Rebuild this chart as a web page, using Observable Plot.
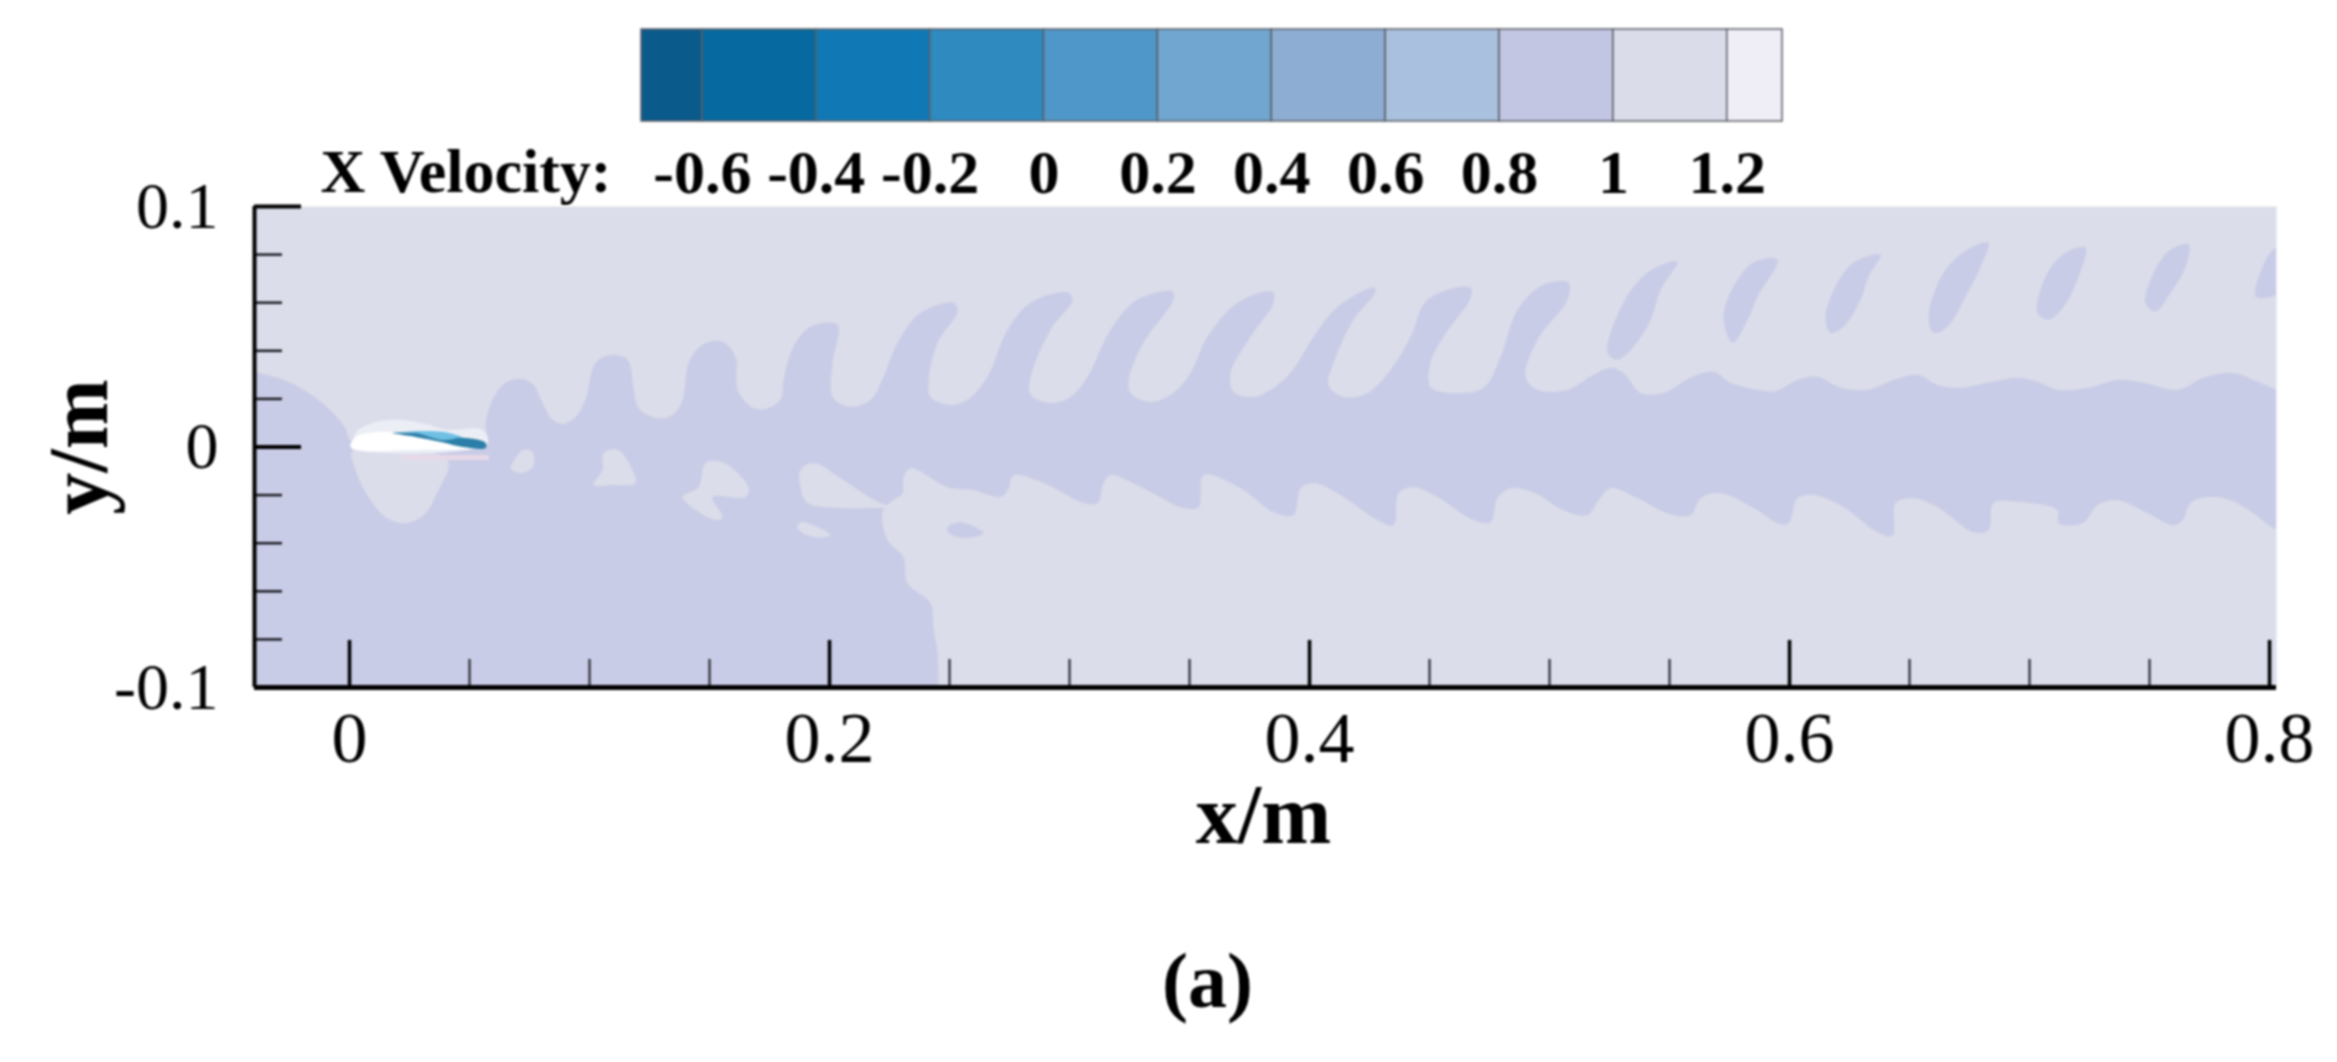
<!DOCTYPE html>
<html>
<head>
<meta charset="utf-8">
<style>body{margin:0;background:#fff;overflow:hidden}svg{display:block;filter:blur(0.8px)}</style>
<script src="https://cdn.jsdelivr.net/npm/d3@7"></script>
<script src="https://cdn.jsdelivr.net/npm/@observablehq/plot@0.6"></script>
</head>
<body>
<div id="chart"></div>
<script>
// Colour bar
const levelTicks = [-0.6,-0.4,-0.2,0,0.2,0.4,0.6,0.8,1,1.2];
const levelBounds = [-0.707,-0.6,-0.4,-0.2,0,0.2,0.4,0.6,0.8,1,1.2,1.297];
const levelColors = ["#0B5A8C","#06699F","#1078B5","#2E8ABF","#4F97C8","#70A6D0","#8DADD2","#A9C0DE","#C3C6E3","#DBDCEA","#EFEDF5"];

// Axis ticks
const xMajor = [0,0.2,0.4,0.6,0.8];
const xMinor = [0.05,0.1,0.15,0.25,0.3,0.35,0.45,0.5,0.55,0.65,0.7,0.75];
const yMajor = [-0.1,0,0.1];
const yMinor = [-0.08,-0.06,-0.04,-0.02,0.02,0.04,0.06,0.08];

// Contour vertices in millimetres
const wakeBand = [[-70,40],[-39.2,31.3],[-25.4,27.1],[-11.3,18.3],[-1.7,7.9],[0.4,2.9],[21.3,-0.4],[56.7,2.1],[56.7,10],[59.6,19.6],[65,26.7],[72.1,28.3],[76.7,25.8],[80.4,18.3],[84.6,11.3],[88.8,9.6],[94.2,12.5],[98.3,19.6],[102.5,35],[108.8,38.3],[115.8,36.3],[118.3,25],[120.4,16.3],[127.5,12.1],[134.6,13.3],[138.8,19.6],[141.3,35],[147.1,42.5],[155.4,43.8],[160.8,37.5],[161.7,23.8],[167.9,16.3],[173.3,15.8],[179.6,19.6],[180.8,27.9],[185,41.7],[192.1,50],[203.3,50.8],[201.3,35],[201.3,20.8],[208.8,16.7],[217.1,19.6],[222.5,29.2],[228.3,43.3],[237.9,55.8],[251.7,60],[253.3,56.3],[245,43.3],[241.3,27.9],[242.1,20.8],[250.4,17.5],[257.5,19.6],[265.8,29.2],[274.2,48.8],[283.8,60],[299.2,64.2],[301.3,61.3],[292.1,48.8],[283.8,29.2],[283.8,21.7],[292.1,18.3],[300.4,20.8],[307.5,29.2],[317.1,48.8],[328.3,61.3],[342.9,64.6],[343.3,61.3],[330.8,43.3],[324.6,27.9],[325.4,22.5],[333.8,18.8],[343.3,22.5],[350.4,30.8],[357.5,45.8],[370,60],[384.6,64.6],[385,60],[375.4,45.8],[367.1,30.8],[368.3,22.9],[376.7,20.8],[383.8,23.8],[392.1,30.8],[401.7,45.8],[411.7,58.3],[426.7,66.3],[427.5,64.6],[418.3,52.9],[410,35],[407.9,25.8],[414.2,20.8],[424.2,22.5],[433.8,32.1],[442.1,45.8],[449.2,61.3],[467.1,66.3],[467.1,62.1],[455.8,45.8],[450.4,35],[450.4,25],[458.8,22.5],[472.5,24.6],[479.6,37.5],[486.7,57.1],[497.5,67.5],[507.9,68.3],[507.5,61.3],[495,44.6],[490,29.2],[495,23.8],[507.5,23.8],[518.3,30],[525.4,32.9],[530.8,30.8],[537.9,22.5],[547.5,22.5],[558.8,28.8],[568.3,31.3],[575.4,26.7],[586.7,23.8],[594.2,23.3],[603.3,27.9],[611.7,29.2],[621.3,24.6],[632.5,23.8],[643.3,27.9],[653.3,30],[661.7,25.8],[671.3,24.6],[682.5,26.7],[695,28.8],[703.3,27.1],[711.7,23.8],[724.2,24.6],[736.7,27.9],[747.5,26.7],[761.7,23.8],[772.5,28.8],[785,30.8],[793.3,27.9],[803.3,23.8],[830,16],[830,-40],[803.3,-34.6],[793.3,-27.5],[783.8,-22.1],[774.2,-20.8],[767.1,-23.3],[763.8,-30.4],[760,-32.5],[749.2,-27.5],[736.7,-22.1],[728.3,-24.2],[722.1,-31.7],[712.1,-31.7],[711.7,-26.3],[696.3,-22.9],[685,-23.3],[682.9,-34.6],[676.7,-35.4],[661.7,-25],[651.7,-21.3],[644.2,-23.3],[642.9,-36.7],[636.7,-35.4],[622.5,-25],[610,-20],[603.3,-21.3],[599.6,-31.7],[595,-31.7],[586.7,-26.3],[571.3,-19.2],[562.9,-21.3],[558.8,-28.3],[549.2,-27.5],[536.7,-21.3],[525.4,-17.1],[520.4,-22.1],[515.8,-28.3],[505.8,-26.3],[493.3,-18.8],[483.8,-17.1],[478.3,-21.3],[475.4,-31.3],[468.3,-30.4],[453.3,-20.8],[443.3,-16.7],[437.1,-19.2],[435,-32.5],[428.3,-30.4],[411.7,-19.2],[401.7,-15],[396.3,-17.1],[393.3,-28.3],[385,-27.1],[371.3,-17.1],[355.8,-11.7],[353.8,-25],[347.5,-25.4],[330.8,-17.1],[317.1,-11.7],[314.2,-15],[311.7,-23.3],[305.8,-23.3],[289.2,-15],[276.7,-11.7],[274.6,-17.1],[271.3,-20.8],[260,-17.9],[249.2,-16.7],[233.8,-8.8],[230.8,-12.5],[230.4,-19.2],[225.4,-22.9],[222.1,-27.1],[224.2,-38.8],[230.8,-45.8],[232.5,-56.7],[242.1,-65],[243.3,-75],[245,-85.8],[245.4,-101.3],[245.5,-130],[-70,-130]];

const lightUnderFoil = [[1.3,-1.3],[2.5,-9.6],[7.9,-20.8],[15,-29.2],[23.3,-31.7],[31.7,-27.5],[37.1,-17.9],[41.3,-8.3],[40,-4.2],[22.1,-1.3]];
const lightIsland1 = [[67.9,-6.7],[72.1,-1.3],[76.3,-2.1],[76.3,-8.3],[71.3,-10.8],[67.1,-8.8]];
const lightIsland2 = [[105.8,-2.5],[112.1,-1.3],[117.9,-9.6],[119.2,-15],[109.6,-15.8],[101.7,-15.8],[105.4,-9.6]];
const lightIsland3 = [[148.3,-6.7],[155.4,-6.3],[166.3,-16.7],[165,-20.8],[151.3,-20.8],[155.4,-29.2],[152.5,-30.4],[138.8,-20.8],[145.4,-16.7]];
const lightIsland4 = [[187.9,-9.6],[193.3,-6.7],[205.8,-13.8],[221.3,-23.3],[228,-25],[218.3,-25.4],[204.6,-25.4],[190.8,-23.3],[187.9,-16.7]];
const lightIsland5 = [[187.9,-31.3],[193.3,-32.5],[200.4,-36.7],[193.3,-37.5],[186.7,-33.8]];
const darkIsland = [[249.2,-33.3],[254.6,-31.3],[264.2,-35.8],[255.8,-37.9],[249.6,-35.8]];

const streak0 = [[553.3,77.1],[540.8,72.5],[530.8,60],[524.2,39.2],[528.3,36.3],[535,41.7],[542.1,52.9],[546.3,65.4]];
const streak1 = [[595,77.9],[585,76.7],[576.7,66.7],[572.5,54.2],[576.3,43.3],[582.5,52.9],[586.7,62.5]];
const streak2 = [[637.9,80],[626.7,76.7],[619.2,66.7],[615,54.2],[617.1,47.5],[622.5,50],[629.6,61.3],[632.9,70.8]];
const streak3 = [[682.9,85],[674.2,82.1],[664.2,72.5],[657.9,54.2],[660,47.5],[665.8,50],[674.2,64.2],[679.6,75]];
const streak4 = [[723.3,82.9],[715.8,81.3],[707.5,72.5],[703.3,55.8],[707.9,52.9],[714.2,58.3],[720.4,70.8]];
const streak5 = [[766.3,84.2],[758.8,82.1],[751.7,72.5],[748.3,60],[752.5,56.3],[758.8,64.2],[765,75]];
const streak6 = [[815,88],[803.3,83.3],[799.2,79.2],[794.2,62.5],[799.2,62.1],[806.7,64.2],[815,62]];

const foilHalo = [[2.5,5.8],[9.6,10],[20.4,11.3],[32.9,9.2],[40,7.1],[55.4,7.1],[57.5,1.3],[2.5,0]];
const foilBody = [[0.4,0],[2.5,4.2],[13.8,6.3],[23.3,5],[38.8,1.7],[56.7,-0.4],[22,-1.3],[5.4,-1.7]];
const foilCyan = [[22,6.3],[38.8,6.3],[47.1,3.8],[38.8,2.9],[27.5,5.8]];
const foilDark = [[17.9,5.8],[27.5,5.8],[38.8,2.9],[47.1,3.8],[56.7,1.7],[56.7,-0.4],[47.1,0],[38.8,2],[27.5,4.2]];
const foilPink = [[22,-3.3],[58,-3.3],[58,-5.4],[22,-5.4]];

const bgColor = "#DBDDEA", bandColor = "#C9CCE6";
const serif = "Liberation Serif";

const poly = (pts, fill, curve = "catmull-rom-closed") => Plot.line(pts, {
  x: d => d[0] / 1000, y: d => d[1] / 1000, fill, stroke: "none", curve, clip: true
});

const legend = Plot.plot({
  width: 2337, height: 140,
  marginLeft: 641, marginRight: 555, marginTop: 29, marginBottom: 19,
  style: {fontFamily: serif, overflow: "visible", background: "transparent"},
  x: {domain: [levelBounds[0], levelBounds[levelBounds.length - 1]], label: null},
  marks: [
    Plot.rect(levelColors, {
      x1: (d, i) => levelBounds[i], x2: (d, i) => levelBounds[i + 1],
      fill: d => d, stroke: "#5c6068", strokeWidth: 1.5
    }),
    Plot.axisX(levelTicks, {
      anchor: "bottom", tickSize: 0, tickPadding: 27, fontSize: 62, fontWeight: "bold",
      tickFormat: d => String(d), label: null, fill: "#000"
    }),
    Plot.text(["X Velocity:"], {
      frameAnchor: "bottom-left", textAnchor: "start", lineAnchor: "middle",
      dx: -321, dy: 51, fontSize: 62, fontWeight: "bold", fill: "#000"
    })
  ],
  color: {type: "identity"}
});

const chart = Plot.plot({
  width: 2337, height: 922,
  marginLeft: 254, marginRight: 61, marginTop: 66, marginBottom: 375,
  style: {fontFamily: serif, overflow: "visible", background: "transparent"},
  x: {domain: [-0.0396, 0.8029], label: null},
  y: {domain: [-0.1, 0.1], label: null},
  marks: [
    Plot.frame({fill: bgColor, stroke: "none"}),
    poly(wakeBand, bandColor),
    ...[lightUnderFoil, lightIsland1, lightIsland2, lightIsland3, lightIsland4, lightIsland5].map(p => poly(p, bgColor)),
    poly(darkIsland, bandColor),
    ...[streak0, streak1, streak2, streak3, streak4, streak5, streak6].map(p => poly(p, bandColor)),
    poly(foilHalo, "#ECEEF6"),
    poly(foilPink, "#E6D9E8", "linear"),
    poly(foilBody, "#FFFFFF"),
    poly(foilCyan, "#6FC0E4"),
    poly(foilDark, "#2A7EA8"),
    Plot.tickX(xMajor, {x: d => d, insetTop: 434, strokeWidth: 3.5, stroke: "#000"}),
    Plot.tickX(xMinor, {x: d => d, insetTop: 453, strokeWidth: 2, stroke: "#1a1a22"}),
    Plot.tickY(yMajor, {y: d => d, insetRight: 1975, strokeWidth: 4, stroke: "#000"}),
    Plot.tickY(yMinor, {y: d => d, insetRight: 1994, strokeWidth: 2.5, stroke: "#1a1a22"}),
    Plot.ruleX([-0.0396], {strokeWidth: 4, stroke: "#000"}),
    Plot.ruleY([-0.1], {strokeWidth: 5, stroke: "#000"}),
    Plot.axisX(xMajor, {anchor: "bottom", tickSize: 0, tickPadding: 23, fontSize: 72, tickFormat: d => String(d), label: null, fill: "#000"}),
    Plot.axisY(yMajor, {anchor: "left", tickSize: 0, tickPadding: 36, fontSize: 66, tickFormat: d => String(d), label: null, fill: "#000"}),
    Plot.text(["x/m"], {frameAnchor: "bottom", lineAnchor: "middle", dx: -2, dy: 129, fontSize: 84, fontWeight: "bold", fill: "#000"}),
    Plot.text(["y/m"], {frameAnchor: "left", textAnchor: "middle", lineAnchor: "middle", rotate: -90, dx: -174, fontSize: 84, fontWeight: "bold", fill: "#000"}),
    Plot.text(["(a)"], {frameAnchor: "bottom", lineAnchor: "middle", dx: -58, dy: 295, fontSize: 78, fontWeight: "bold", fill: "#000"})
  ]
});

const root = document.getElementById("chart");
root.append(legend, chart);
</script>
</body>
</html>
